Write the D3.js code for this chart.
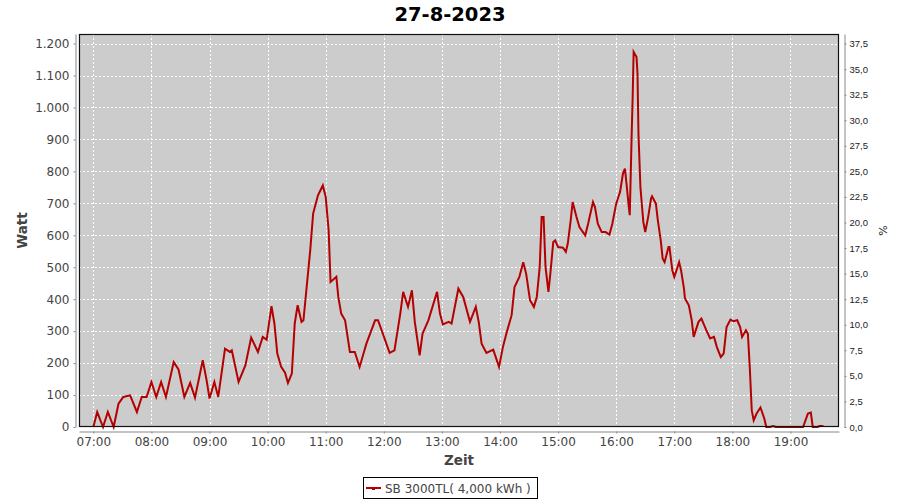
<!DOCTYPE html>
<html><head><meta charset="utf-8">
<script src="https://cdn.jsdelivr.net/npm/d3@7"></script>
<style>body{margin:0;background:#fff}svg{display:block}</style>
</head><body><svg id="c" width="900" height="500"></svg>
<script>
const title = "27-8-2023";
const seriesName = "SB 3000TL( 4,000 kWh )";
const times = ["07:00","07:04","07:10","07:15","07:21","07:26","07:31","07:38","07:45","07:50","07:55","08:00","08:05","08:10","08:15","08:23","08:28","08:34","08:40","08:45","08:53","08:57","09:00","09:05","09:09","09:16","09:21","09:23","09:30","09:37","09:43","09:50","09:55","09:59","10:04","10:07","10:10","10:14","10:18","10:21","10:25","10:28","10:31","10:35","10:37","10:40","10:44","10:47","10:52","10:57","11:00","11:03","11:05","11:11","11:13","11:16","11:20","11:25","11:30","11:35","11:42","11:51","11:54","11:59","12:06","12:11","12:17","12:20","12:25","12:29","12:32","12:37","12:40","12:46","12:55","12:58","13:01","13:07","13:10","13:17","13:22","13:29","13:35","13:38","13:41","13:46","13:53","13:59","14:03","14:07","14:12","14:15","14:20","14:24","14:27","14:31","14:35","14:38","14:41","14:43","14:45","14:47","14:50","14:52","14:55","14:57","15:00","15:05","15:08","15:10","15:13","15:15","15:19","15:22","15:28","15:31","15:36","15:38","15:41","15:45","15:49","15:53","15:56","16:00","16:04","16:07","16:09","16:11","16:13","16:14","16:16","16:17","16:18","16:21","16:22","16:23","16:25","16:28","16:30","16:33","16:36","16:37","16:41","16:43","16:46","16:48","16:50","16:54","16:55","16:58","17:00","17:05","17:07","17:10","17:11","17:15","17:18","17:20","17:25","17:28","17:33","17:37","17:41","17:44","17:48","17:51","17:54","17:58","18:01","18:05","18:08","18:10","18:14","18:16","18:18","18:20","18:22","18:25","18:29","18:33","18:35","18:39","18:42","18:45","19:13","19:18","19:21","19:23","19:28","19:30","19:34"];
const watts = [0,47,0,47,0,73,94,99,47,94,94,141,94,141,94,203,180,94,138,92,209,146,89,141,94,245,235,240,141,193,280,235,282,273,378,324,230,188,170,138,167,324,381,329,334,428,553,668,725,756,720,616,454,470,407,355,334,235,235,188,261,334,334,292,232,240,355,423,376,428,329,224,292,334,423,355,321,329,324,433,407,329,376,329,261,232,242,188,250,297,350,438,470,516,480,397,376,407,501,657,657,501,423,480,579,584,563,561,548,574,647,704,657,626,600,636,704,689,636,610,610,602,636,699,736,793,809,751,690,663,918,1033,1174,1158,1106,918,751,642,610,657,715,722,699,647,584,527,516,563,563,490,470,516,490,433,402,381,334,282,329,339,303,277,282,250,219,230,313,336,331,334,313,282,303,292,183,52,21,42,61,26,0,0,3,0,0,42,45,0,0,3,3];
const wattTicks = [0,100,200,300,400,500,600,700,800,900,1000,1100,1200];
const pctTicks = [0,2.5,5,7.5,10,12.5,15,17.5,20,22.5,25,27.5,30,32.5,35,37.5];
const hourTicks = ["07:00","08:00","09:00","10:00","11:00","12:00","13:00","14:00","15:00","16:00","17:00","18:00","19:00"];
const xStart = "06:45:12", xEnd = "19:50:06";
const wattMax = 1230, wattPerPct = 32;

const de = d3.formatLocale({decimal:",",thousands:".",grouping:[3],currency:["","€"]});
const parse = d3.timeParse("%Y-%m-%d %H:%M");
const parseS = d3.timeParse("%Y-%m-%d %H:%M:%S");
const day = "2023-08-27 ";
const data = times.map((t,i)=>({t:parse(day+t), v:watts[i]}));

const L=79, R=839, T=34, B=427;
const svg = d3.select("#c");
const x = d3.scaleTime().domain([parseS(day+xStart), parseS(day+xEnd)]).range([L,R]);
const y = d3.scaleLinear().domain([0,wattMax]).range([B,T]);
const y2 = d3.scaleLinear().domain([0,wattMax/wattPerPct]).range([B,T]);

svg.append("text").attr("x",450).attr("y",21).attr("text-anchor","middle")
  .attr("font-family","DejaVu Sans").attr("font-weight","bold").attr("font-size",19.5).attr("fill","#000").text(title);

svg.append("rect").attr("x",L).attr("y",T).attr("width",R-L).attr("height",B-T).attr("fill","#cccccc");

const g = svg.append("g");
g.selectAll("line.hg").data(wattTicks).join("line").attr("x1",L).attr("x2",R)
  .attr("y1",d=>Math.round(y(d))+0.5).attr("y2",d=>Math.round(y(d))+0.5)
  .attr("stroke","#fff").attr("stroke-dasharray","2,2");
g.selectAll("line.vg").data(hourTicks.map(h=>parse(day+h))).join("line")
  .attr("y1",T).attr("y2",B).attr("x1",d=>Math.round(x(d))+0.5).attr("x2",d=>Math.round(x(d))+0.5)
  .attr("stroke","#fff").attr("stroke-dasharray","2,2");

const line = d3.line().x(d=>x(d.t)).y(d=>y(d.v));
svg.append("path").datum(data).attr("d",line).attr("fill","none")
  .attr("stroke","#b40000").attr("stroke-width",2).attr("stroke-linejoin","miter");

svg.append("rect").attr("x",L+0.5).attr("y",T+0.5).attr("width",R-L-1).attr("height",B-T-1)
  .attr("fill","none").attr("stroke","#111").attr("stroke-width",1.2);

const axStyle = sel=>{
  sel.selectAll(".domain").attr("stroke","#888");
  sel.selectAll(".tick line").attr("stroke","#888");
};
const yAx = svg.append("g").attr("transform","translate(75.5,0)")
  .call(d3.axisLeft(y).tickValues(wattTicks).tickSize(2).tickSizeOuter(0).tickPadding(4).tickFormat(de.format(",d")));
yAx.selectAll("text").attr("font-family","DejaVu Sans").attr("font-size",12).attr("fill","#444");
axStyle(yAx);

const y2Ax = svg.append("g").attr("transform","translate(844.5,0)")
  .call(d3.axisRight(y2).tickValues(pctTicks).tickSize(2).tickSizeOuter(0).tickPadding(3).tickFormat(de.format(",.1f")));
y2Ax.selectAll("text").attr("font-family","Liberation Sans").attr("font-size",9.5).attr("fill","#222");
axStyle(y2Ax);

const xAx = svg.append("g").attr("transform","translate(0,431.5)")
  .call(d3.axisBottom(x).tickValues(hourTicks.map(h=>parse(day+h))).tickSize(2).tickSizeOuter(0).tickPadding(4).tickFormat(d3.timeFormat("%H:%M")));
xAx.selectAll("text").attr("font-family","DejaVu Sans").attr("font-size",12).attr("fill","#444");
axStyle(xAx);

svg.append("text").attr("transform","translate(27,230.5) rotate(-90)").attr("text-anchor","middle")
  .attr("font-family","DejaVu Sans").attr("font-weight","bold").attr("font-size",13.5).attr("fill","#444").text("Watt");
svg.append("text").attr("x",459).attr("y",465).attr("text-anchor","middle")
  .attr("font-family","DejaVu Sans").attr("font-weight","bold").attr("font-size",13.5).attr("fill","#444").text("Zeit");
svg.append("text").attr("transform","translate(887,230.5) rotate(-90)").attr("text-anchor","middle")
  .attr("font-family","DejaVu Sans").attr("font-size",11).attr("fill","#222").text("%");

const lg = svg.append("g");
lg.append("rect").attr("x",363.5).attr("y",477.5).attr("width",174).attr("height",21).attr("fill","#fff").attr("stroke","#000");
lg.append("line").attr("x1",366).attr("x2",381).attr("y1",488).attr("y2",488).attr("stroke","#b40000").attr("stroke-width",2);
lg.append("rect").attr("x",372).attr("y",488).attr("width",3).attr("height",2).attr("fill","#b40000");
lg.append("text").attr("x",385).attr("y",492.5).attr("font-family","DejaVu Sans").attr("font-size",12).attr("fill","#444").text(seriesName);
</script></body></html>
